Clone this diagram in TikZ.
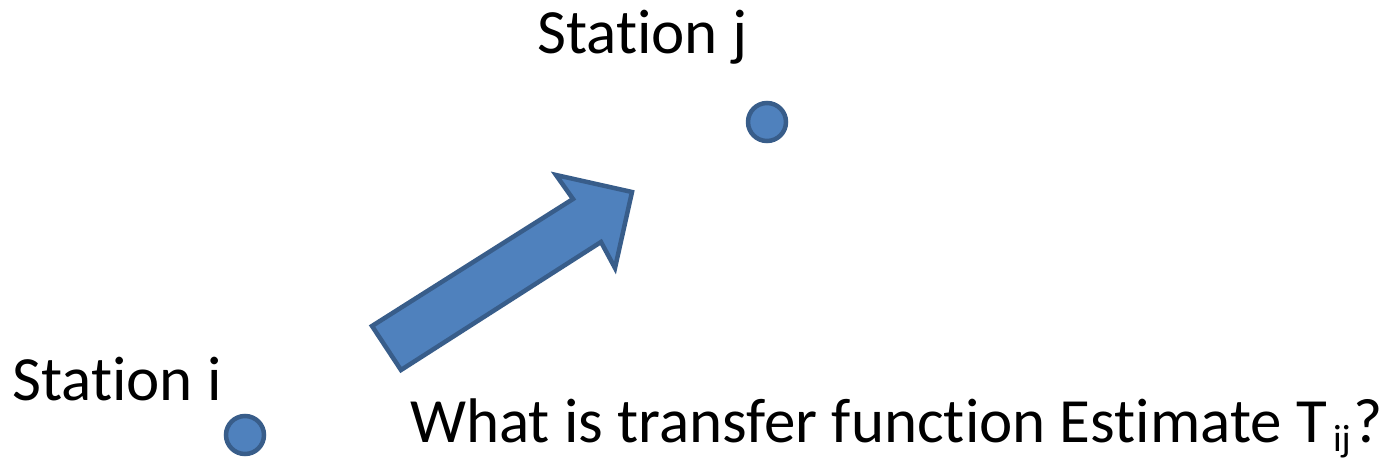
\documentclass[tikz,border=0pt]{standalone}
\usepackage{fontspec}
\setmainfont{Carlito}[Ligatures={NoCommon}]
\definecolor{fillblue}{HTML}{4F81BD}
\definecolor{lineblue}{HTML}{385D8A}
\newcommand{\subij}{\raisebox{-9pt}{\fontsize{38}{38}\selectfont ij}}
\begin{document}
\begin{tikzpicture}[x=1pt,y=-1pt,
  station/.style={circle,fill=fillblue,draw=lineblue,line width=4.5pt,minimum size=38pt,inner sep=0pt},
  label/.style={anchor=base west,inner sep=0pt,font=\fontsize{63}{75}\selectfont}]
\useasboundingbox (0,0) rectangle (1396,466);
\node[station] (sj) at (767,122) {};
\node[station] (si) at (245,435) {};
\node[label] (tj) at (537,53) {Station j};
\node[label] (ti) at (12,400) {Station i};
\node[label] (q) at (410,442) {What is transfer function Estimate T\hspace{6pt}\subij\hspace{3pt}?};
\draw[fill=fillblue,draw=lineblue,line width=4.5pt,line join=miter]
  (372,326) -- (573,199) -- (556,175) -- (632,192) -- (615,268) -- (601,242) -- (401,370) -- cycle;
\end{tikzpicture}
\end{document}
